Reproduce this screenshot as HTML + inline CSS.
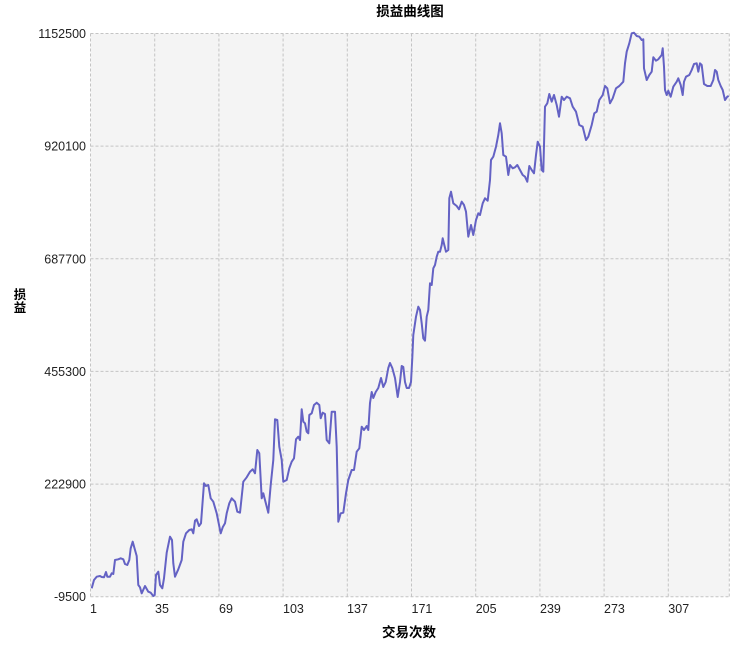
<!DOCTYPE html>
<html><head><meta charset="utf-8"><style>
html,body{margin:0;padding:0;background:#fff;width:750px;height:646px;overflow:hidden}
svg{display:block}
.t{font-family:"Liberation Sans","Noto Sans CJK SC",sans-serif;font-size:12.5px;fill:#222}
.b{font-family:"Liberation Sans","Noto Sans CJK SC",sans-serif;font-weight:bold;fill:#000}
</style></head><body>
<svg width="750" height="646" viewBox="0 0 750 646" xmlns="http://www.w3.org/2000/svg">
<rect x="90.5" y="33.5" width="638.8" height="563.2" fill="#f4f4f4"/>
<g stroke="#c4c4c4" stroke-width="1" stroke-dasharray="3,2" fill="none">
<line x1="90.5" y1="33.5" x2="729.3" y2="33.5"/>
<line x1="90.5" y1="146.1" x2="729.3" y2="146.1"/>
<line x1="90.5" y1="258.8" x2="729.3" y2="258.8"/>
<line x1="90.5" y1="371.4" x2="729.3" y2="371.4"/>
<line x1="90.5" y1="484.1" x2="729.3" y2="484.1"/>
<line x1="90.5" y1="596.7" x2="729.3" y2="596.7"/>
<line x1="90.5" y1="33.5" x2="90.5" y2="596.7"/>
<line x1="154.7" y1="33.5" x2="154.7" y2="596.7"/>
<line x1="218.9" y1="33.5" x2="218.9" y2="596.7"/>
<line x1="283.1" y1="33.5" x2="283.1" y2="596.7"/>
<line x1="347.3" y1="33.5" x2="347.3" y2="596.7"/>
<line x1="411.5" y1="33.5" x2="411.5" y2="596.7"/>
<line x1="475.7" y1="33.5" x2="475.7" y2="596.7"/>
<line x1="539.9" y1="33.5" x2="539.9" y2="596.7"/>
<line x1="604.1" y1="33.5" x2="604.1" y2="596.7"/>
<line x1="668.3" y1="33.5" x2="668.3" y2="596.7"/>
<line x1="729.3" y1="33.5" x2="729.3" y2="596.7"/>
</g>
<g class="t" text-anchor="end">
<text x="86" y="38">1152500</text>
<text x="86" y="150.6">920100</text>
<text x="86" y="263.3">687700</text>
<text x="86" y="375.9">455300</text>
<text x="86" y="488.6">222900</text>
<text x="86" y="601.2">-9500</text>
</g>
<g class="t">
<text x="90" y="613">1</text>
<text x="155" y="613">35</text>
<text x="219" y="613">69</text>
<text x="283" y="613">103</text>
<text x="347" y="613">137</text>
<text x="411.5" y="613">171</text>
<text x="475.7" y="613">205</text>
<text x="540" y="613">239</text>
<text x="604" y="613">273</text>
<text x="668.3" y="613">307</text>
</g>
<text class="b" x="410" y="16" text-anchor="middle" font-size="13.5">损益曲线图</text>
<text class="b" x="409" y="637" text-anchor="middle" font-size="13.5">交易次数</text>
<text class="b" x="20" y="299" text-anchor="middle" font-size="12.5">损</text>
<text class="b" x="20" y="312" text-anchor="middle" font-size="12.5">益</text>
<polyline fill="none" stroke="#6462c4" stroke-width="2" stroke-linejoin="round" points="91.7,588.3 94,580 96.7,576.7 100,576 101.7,577 104,577.3 106,572 107.3,576.7 110,576.7 111.7,573.3 113.3,574 115,560 118.3,559.3 120.7,558.3 123.3,559.3 125,564 127.3,565 129.3,560 130.7,548.3 132.7,541.7 135,550 136.7,556 138.3,585 140,587.3 141.7,593.3 145,586 148.3,591.7 150.7,592.7 153.3,596 154.7,595 156,575 158.3,571.7 160,585 162.3,588.3 164,578.3 166.7,552.7 170,536.7 172,540 173.3,563.3 175,576.7 178.3,569.3 181.7,560 183.3,541.7 186,533.3 189.3,530 191.7,529.3 193.3,533.3 195,520.7 196.7,519.3 199,526 201,523.3 204,483.3 206,486 208.3,485 210.7,498.3 213.3,501.7 216.7,513.3 220.7,533.3 222.7,527.3 225,523.3 226.7,513.3 229.3,503.3 231.7,498.3 235,501.7 237.3,511.7 240,512.7 243.3,481.7 246.7,477.3 250,471.7 252.7,469.3 255,473.3 257.3,450 259.3,453.3 261.7,498.3 263.3,493.3 265,500 268.3,512.7 270.7,485 273.3,460 275,419.3 277.3,420 279.3,446.7 281.7,460 283.3,481.7 286.7,480 289.3,468.3 291.7,461.7 294,458.3 296,439.3 298.3,436.7 300,440 301.7,409.3 303.3,421.7 305,423.3 306.7,431.7 308.3,433.3 309.3,415 311.7,413.3 314,405 316.7,402.7 319.3,405 320.7,418.3 322.7,412.7 325,414 326.7,440 329.3,443.3 331.7,411.7 335,411.7 336.7,446.7 337.7,490 338.3,521.7 340.7,513.3 343.3,512.7 346,493.3 348.3,480 351.7,470 354,470 356.7,451.7 359.3,448.3 361.7,426.7 364,430 366.7,426 368.3,430 370,403 371.7,392 373.3,398 375.7,392 378.3,388 381,378 383.3,387 385.7,382 388.3,368 390,363 392.3,368 395,378 397.7,397 400,382 401.7,366 403.3,367 405,382 406.7,388 409,388 411,382 412.3,358 413.3,335 416,316.7 418.3,306.7 420,310 421.7,323.3 423.3,338.3 425,340.7 426.7,316.7 428.3,310 430,283.3 431.7,285 433.3,268.3 435,265 436.7,256.7 438.3,251.7 440,251.7 441.7,245 442.7,238.3 444.3,245 446,251.7 448.3,250 449.3,198.3 451,191.7 453.3,203.3 456.7,206 459,209.3 461.7,201.7 464,205 466,211.7 468.3,236.7 471,225 473.3,235 476,220 478.3,213.3 480,215 482.7,203.3 485,198.3 487.7,200.7 490,180 491,160 493.3,156.7 496,146.7 498.3,135 500,123.3 501.7,133.3 503.3,155 506,156.7 508.3,175 510,165 512.7,168.3 515,167.3 517.3,165 520,170 522.7,175 525,176.7 527.3,181.7 529.3,166 531.7,170 534,173.3 536,155 537.7,141.7 540,146.7 541.7,170 543.3,171.7 545,106.7 547.3,103.3 549.3,94 551.7,101.7 554,95 556.7,105 559,116.7 561.7,96.7 564,100 566.7,96.7 570,98.3 572.7,106.7 576,111.7 579.3,125 582.7,126.7 586,140 588.3,136.7 591.7,125 594.3,113.3 596.7,111.7 599.3,100 602.7,95 605,86 607.3,88.3 610,103.3 612.7,98.3 616,88.3 619.3,86 623.3,81.7 625,63.3 626.7,51.7 629.3,43.3 631.7,33.3 634,32.7 636.7,36 639.3,36.7 641.7,40 643.3,39.3 644,68.3 646.7,80 649.3,75 651.7,71.7 653.3,57.3 656,60.7 658.3,59.3 661.7,55 662.7,48.3 664,66.7 665,90 666.7,95 668.3,90.7 670.7,96.7 673.3,86.7 676.7,81.7 678.3,78.3 680.7,85 682.7,95 684,81.7 686,76.7 689.3,75 691.7,70 694,64 696.7,63.3 698.3,71.7 700,63.3 701.7,65 704,84 707.3,86 710.7,86 713.3,80 715,70 716.7,71.7 718.3,80 720.7,86 722.7,90 725,100 727.3,96.7 728.7,96"/>
</svg>
</body></html>
